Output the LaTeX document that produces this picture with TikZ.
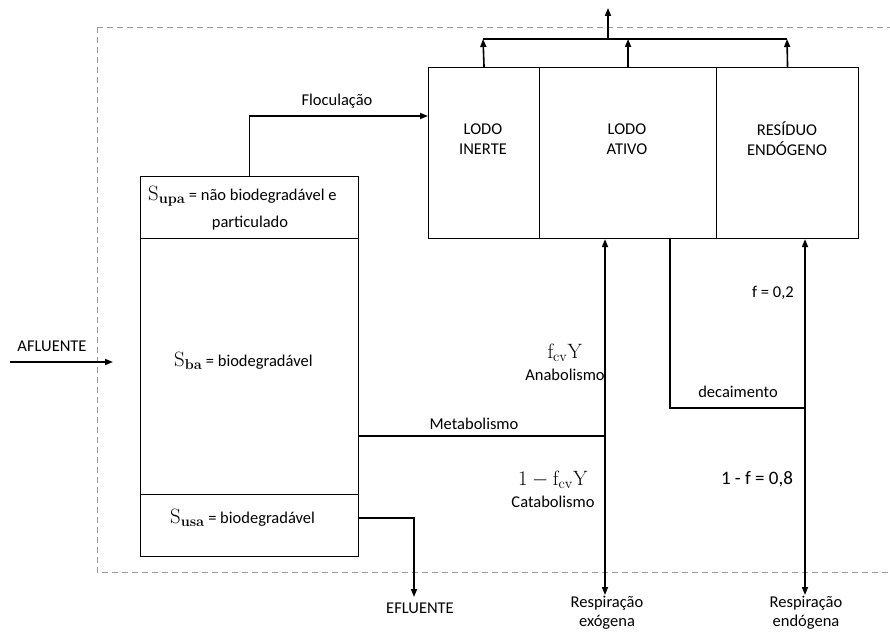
\documentclass[tikz,border=0pt]{standalone}
\usepackage[no-math]{fontspec}
\setmainfont{Carlito}
\usetikzlibrary{arrows.meta}
\begin{document}
\begin{tikzpicture}[x=1pt,y=-1pt,
  box/.style={draw, line width=1.1pt, inner sep=0pt, anchor=north west},
  flow/.style={line width=1.6pt},
  arr/.style={flow,-{Triangle[length=8pt,width=6pt]}},
  darr/.style={flow,{Triangle[length=8pt,width=6pt]}-{Triangle[length=8pt,width=6pt]}},
  lbl/.style={font=\fontsize{16.5}{19}\selectfont, inner sep=0pt, align=center},
  big/.style={font=\fontsize{16.5}{20}\selectfont, inner sep=0pt, align=center},
  mth/.style={font=\fontsize{21}{22}\selectfont, inner sep=0pt}]
\clip (0,0) rectangle (890,631);
\fill[white] (0,0) rectangle (890,631);
% dashed boundary
\draw[gray!80, line width=0.9pt, dash pattern=on 6pt off 4pt] (97,27) rectangle (895,572);
% right boxes
\node[box, minimum width=111pt, minimum height=171pt] (inerte) at (428,67) {};
\node[box, minimum width=177pt, minimum height=171pt] (ativo) at (539,67) {};
\node[box, minimum width=142pt, minimum height=171pt] (residuo) at (716,67) {};
\node[big] (tinerte) at (483,139) {LODO\\INERTE};
\node[big] (tativo) at (627,139) {LODO\\ATIVO};
\node[big] (tresiduo) at (787,139) {RESÍDUO\\ENDÓGENO};
% left boxes
\node[box, minimum width=218pt, minimum height=62pt] (supa) at (140,176) {};
\node[box, minimum width=218pt, minimum height=256pt] (sba) at (140,238) {};
\node[box, minimum width=218pt, minimum height=62pt] (susa) at (140,494) {};
\node[lbl, anchor=base west] (tsupa) at (148,200) {{\fontsize{22}{24}\selectfont$\mathrm{S_{\mathbf{upa}}}$}\ = não biodegradável e};
\node[lbl, anchor=base] (tpart) at (250,227) {particulado};
\node[lbl, anchor=base west] (tsba) at (174,366) {{\fontsize{22}{24}\selectfont$\mathrm{S_{\mathbf{ba}}}$}\ = biodegradável};
\node[lbl, anchor=base west] (tsusa) at (170,523) {{\fontsize{22}{24}\selectfont$\mathrm{S_{\mathbf{usa}}}$}\ = biodegradável};
% top outputs
\coordinate (tl) at (483,39);
\coordinate (tr) at (787,39);
\coordinate (tm) at (608,39);
\coordinate (top) at (608,8);
\draw[flow] (tl) -- (tr);
\draw[arr] (inerte.north) -- (tl);
\draw[arr] (ativo.north) -- (ativo.north |- tl);
\draw[arr] (residuo.north) -- (tr);
\draw[arr] (tm) -- (top);
% flocculation
\coordinate (floc) at (428,116);
\draw[arr] (supa.north) |- (floc);
\node[lbl] (tfloc) at (337,101) {Floculação};
% afluente
\coordinate (af0) at (10,362);
\coordinate (af1) at (113,362);
\draw[arr] (af0) -- (af1);
\node[lbl] (taf) at (52,346) {AFLUENTE};
% metabolism
\coordinate (met) at (605,436);
\coordinate (rexo) at (605,595);
\draw[flow] (sba.east |- met) -- (met);
\draw[darr] (ativo.south -| met) -- (rexo);
\node[lbl] (tmet) at (474,424) {Metabolismo};
\node[mth, anchor=base] (tfcv) at (565,358) {$\mathrm{f_{cv}Y}$};
\node[lbl] (tana) at (565,375) {Anabolismo};
\node[mth, anchor=base] (tcat1) at (553,485) {$1-\mathrm{f_{cv}Y}$};
\node[lbl] (tcat) at (553,502) {Catabolismo};
\node[lbl] (trexo) at (607,613) {Respiração\\exógena};
% decay
\coordinate (decs) at (670,238);
\coordinate (dec) at (805,408);
\coordinate (rend) at (805,595);
\draw[flow] (decs) |- (dec);
\draw[darr] (residuo.south -| dec) -- (rend);
\node[lbl] (tf) at (773,293) {f = 0,2};
\node[lbl] (tdec) at (738,392) {decaimento};
\node[font=\fontsize{19}{22}\selectfont, inner sep=0pt] (tf8) at (757,479) {1 - f = 0,8};
\node[lbl] (trend) at (806,613) {Respiração\\endógena};
% efluente
\coordinate (ef0) at (358,518);
\coordinate (ef) at (414,597);
\draw[arr] (ef0) -| (ef);
\node[lbl] (tef) at (420,608) {EFLUENTE};
\end{tikzpicture}
\end{document}
